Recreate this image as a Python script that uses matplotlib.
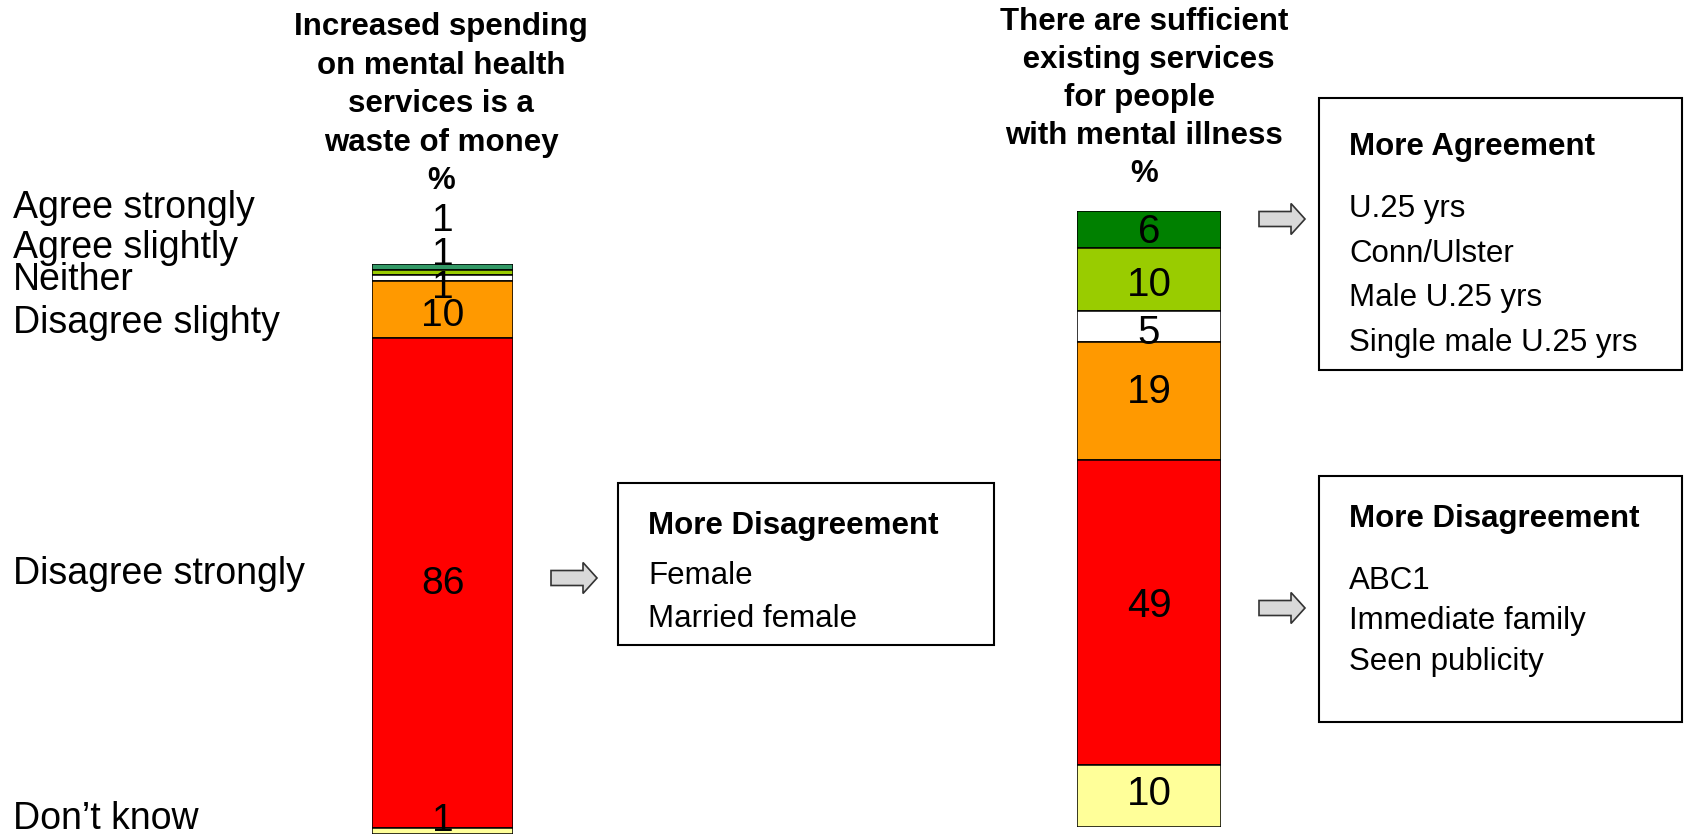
"""Stacked attitude bars: waste of money vs sufficient services."""
import matplotlib
matplotlib.use('Agg')
import matplotlib.pyplot as plt
import matplotlib.transforms as mtransforms
from matplotlib.patches import Rectangle, FancyArrow
import numpy as np

plt.rcParams['font.family'] = ['Liberation Sans', 'DejaVu Sans']

W, H = 1689, 837

# Data (top of bar first)
categories = ['Agree strongly', 'Agree slightly', 'Neither', 'Disagree slighty',
              'Disagree strongly', 'Don\u2019t know']
waste_pct = [1, 1, 1, 10, 86, 1]
sufficient_pct = [6, 10, 5, 19, 49, 10]

waste_colors = ['#339966', '#99cc00', '#ffffff', '#ff9900', '#ff0000', '#ffff99']
suff_colors = ['#008000', '#99cc00', '#ffffff', '#ff9900', '#ff0000', '#ffff99']

title_left = 'Increased spending\non mental health\nservices is a\nwaste of money\n%'
title_right = 'There are sufficient\n existing services\nfor people \nwith mental illness\n%'

box_agree_title = 'More Agreement'
box_agree_items = ['U.25 yrs', 'Conn/Ulster', 'Male U.25 yrs', 'Single male U.25 yrs']
box_dis1_title = 'More Disagreement'
box_dis1_items = ['Female', 'Married female']
box_dis2_title = 'More Disagreement'
box_dis2_items = ['ABC1', 'Immediate family', 'Seen publicity']


def stacked_bar(ax, values, colors, fontsize, label_shift):
    vals = np.array(values, dtype=float)
    # stack from bottom: last category at bottom
    bottoms = np.concatenate([[0], np.cumsum(vals[::-1])[:-1]])[::-1]
    ax.bar(0, vals, bottom=bottoms, width=1.0, color=colors,
           edgecolor='black', linewidth=1.1)
    for v, b, s in zip(vals, bottoms, label_shift):
        ax.text(0, b + v / 2 + s, f'{v:.0f}', ha='center', va='center',
                fontsize=fontsize, clip_on=False)
    ax.set_xlim(-0.5, 0.5)
    ax.set_ylim(0, vals.sum())
    ax.axis('off')


def main():
    fig = plt.figure(figsize=(W / 100, H / 100), dpi=100)
    # pixel coordinates with top-left origin
    px = mtransforms.Affine2D().scale(1 / W, -1 / H).translate(0, 1) + fig.transFigure

    ax1 = fig.add_axes([372 / W, (H - 835) / H, 141 / W, 570 / H])
    stacked_bar(ax1, waste_pct, waste_colors, 28, [8.2, 3.3, -1.6, -0.9, 0, 2.0])

    ax2 = fig.add_axes([1077 / W, (H - 828) / H, 144 / W, 616 / H])
    stacked_bar(ax2, sufficient_pct, suff_colors, 29, [-0.2, -0.7, -0.9, 1.6, 1.2, 0.5])

    # category labels
    label_y = [218, 258, 290, 333, 584, 829]
    for lab, y in zip(categories, label_y):
        fig.text(13, y, lab, transform=px, fontsize=27, ha='left', va='baseline')

    # titles
    fig.text(441, 12, title_left, transform=px, fontsize=22.5, fontweight='bold',
             ha='center', va='top', multialignment='center', linespacing=1.37)
    fig.text(1144, 7, title_right, transform=px, fontsize=22.5, fontweight='bold',
             ha='center', va='top', multialignment='center', linespacing=1.35)

    # boxes with arrows: box x, y, w, h, heading, items, heading baseline,
    # first item baseline, item step, arrow start x, arrow y
    boxes = [
        (618, 484, 376, 162, box_dis1_title, box_dis1_items, 534, 584, 43, 551, 579),
        (1319, 99, 363, 272, box_agree_title, box_agree_items, 155, 217, 44.7, 1259, 220),
        (1319, 477, 363, 246, box_dis2_title, box_dis2_items, 527, 589, 40.5, 1259, 609),
    ]
    for bx, by, bw, bh, head, items, hy, iy, step, ax0, ay in boxes:
        fig.patches.append(Rectangle((bx, by), bw, bh, transform=px, facecolor='white',
                                     edgecolor='black', linewidth=1.5, zorder=0))
        tx = bx + 30
        fig.text(tx, hy, head, transform=px, fontsize=22.5, fontweight='bold',
                 ha='left', va='baseline')
        for i, it in enumerate(items):
            fig.text(tx, iy + i * step, it, transform=px, fontsize=22.5,
                     ha='left', va='baseline')
        fig.patches.append(FancyArrow(ax0, ay, 46, 0, width=15, head_width=31,
                                      head_length=14, length_includes_head=True,
                                      transform=px, facecolor='#d9d9d9',
                                      edgecolor='#333333', linewidth=1.2))

    fig.savefig('out.png', dpi=100)
    plt.close(fig)


if __name__ == '__main__':
    main()
